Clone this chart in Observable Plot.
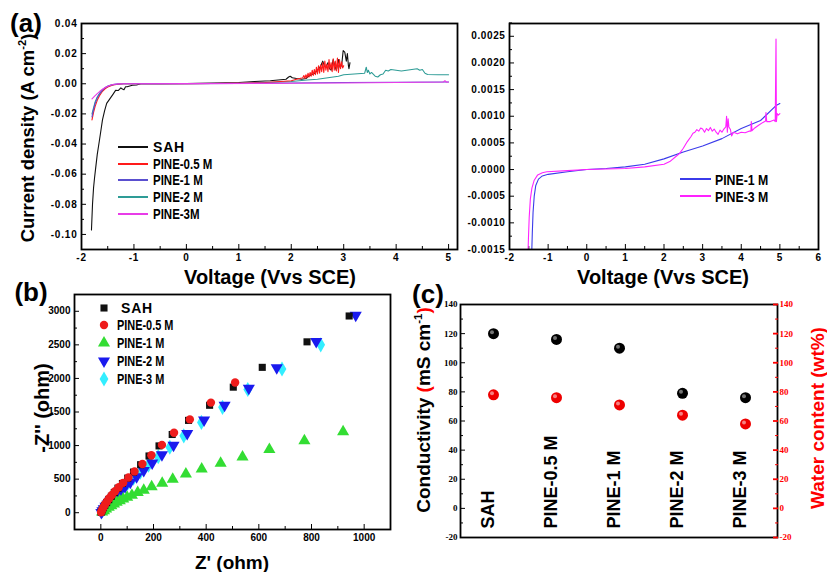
<!DOCTYPE html>
<html><head><meta charset="utf-8">
<script src="https://cdn.jsdelivr.net/npm/d3@7"></script>
<script src="https://cdn.jsdelivr.net/npm/@observablehq/plot@0.6"></script>
<style>
body{margin:0;background:#fff;}
#fig{position:relative;width:827px;height:572px;overflow:hidden;font-family:"Liberation Sans",Arial,sans-serif;background:#fff;}
.t{position:absolute;white-space:nowrap;font-weight:bold;line-height:1;}
sup{font-size:0.6em;vertical-align:0.7em;}
</style></head><body><div id="fig"></div>
<script>
// ---------- (a) left: LSV curves ----------
const aSeries = ["SAH","PINE-0.5 M","PINE-1 M","PINE-2 M","PINE-3M"];
const aColors = ["#111111","#ff1a1a","#5a4fcf","#2e9c96","#e83ce8"];
const sahV = [-1.81,-1.79,-1.77,-1.75,-1.73,-1.70,-1.66,-1.63,-1.60,-1.56,-1.52,-1.48,-1.44,-1.40,-1.35,-1.30,-1.25,-1.22,-1.19,-1.16,-1.13,-1.08,-1.03,-0.95,-0.87,-0.5,0,0.5,1.0,1.3,1.6,1.9,1.95,1.98,2.02,2.1,2.2,2.28,2.33,2.38,2.45,2.5,2.55,2.6,2.63,2.66,2.7,2.73,2.76,2.8,2.83,2.86,2.9,2.93,2.96,2.99,3.02,3.05,3.07,3.09,3.1,3.12];
const sahJ = [-0.097,-0.080,-0.069,-0.062,-0.056,-0.047,-0.038,-0.031,-0.024,-0.018,-0.013,-0.011,-0.009,-0.007,-0.0044,-0.0045,-0.0027,-0.0035,-0.004,-0.002,-0.002,-0.0015,-0.001,-0.0008,0,0,0.0002,0.0004,0.0008,0.0015,0.002,0.003,0.0045,0.005,0.004,0.0035,0.003,0.0035,0.005,0.006,0.007,0.009,0.011,0.015,0.012,0.011,0.014,0.010,0.009,0.016,0.012,0.009,0.016,0.011,0.012,0.022,0.021,0.015,0.020,0.012,0.010,0.014];
const p05V = [-1.80,-1.77,-1.74,-1.70,-1.65,-1.60,-1.55,-1.50,-1.45,-1.40,-1.30,-1.20,0,1.0,1.5,1.8,2.0,2.1,2.2,2.22,2.24,2.26,2.28,2.30,2.32,2.34,2.36,2.38,2.40,2.42,2.44,2.46,2.48,2.50,2.52,2.54,2.56,2.58,2.60,2.62,2.64,2.66,2.68,2.70,2.72,2.74,2.76,2.78,2.80,2.82,2.84,2.86,2.88,2.90,2.92,2.94,2.96,2.98,3.00];
const p05J = [-0.024,-0.019,-0.015,-0.011,-0.0075,-0.005,-0.0033,-0.0022,-0.0014,-0.0008,-0.0003,0,0,0.0003,0.0008,0.0015,0.002,0.003,0.0038,0.004,0.0055,0.0035,0.006,0.004,0.007,0.0045,0.0075,0.005,0.009,0.0055,0.0095,0.006,0.011,0.0065,0.012,0.007,0.0125,0.008,0.014,0.0075,0.015,0.009,0.013,0.008,0.016,0.0095,0.014,0.008,0.0165,0.009,0.015,0.0085,0.017,0.0075,0.016,0.01,0.0145,0.0105,0.012];
const p1V = [-1.80,-1.77,-1.74,-1.70,-1.65,-1.60,-1.55,-1.50,-1.45,-1.40,-1.30,-1.20,0,1,2,3,4,5];
const p1J = [-0.022,-0.017,-0.013,-0.0095,-0.0065,-0.0042,-0.0027,-0.0017,-0.001,-0.0006,-0.0002,0,0.0001,0.0002,0.0005,0.0008,0.001,0.0012];
const p2V = [-1.80,-1.77,-1.74,-1.70,-1.65,-1.60,-1.55,-1.50,-1.45,-1.40,-1.30,-1.20,0,1.0,1.5,2.0,2.3,2.5,2.7,2.9,3.0,3.2,3.4,3.43,3.45,3.47,3.5,3.53,3.6,3.65,3.7,3.75,3.8,3.85,3.9,4.0,4.1,4.2,4.3,4.4,4.45,4.5,4.55,4.6,4.8,5.0];
const p2J = [-0.020,-0.016,-0.012,-0.0088,-0.006,-0.004,-0.0026,-0.0016,-0.001,-0.0006,-0.0002,0,0.0001,0.0003,0.0008,0.0015,0.0025,0.003,0.004,0.005,0.006,0.0065,0.007,0.011,0.0075,0.009,0.0065,0.0075,0.005,0.0045,0.006,0.0065,0.009,0.0085,0.0095,0.009,0.0085,0.009,0.0095,0.010,0.009,0.0095,0.007,0.0062,0.006,0.006];
const p3V = [-1.80,-1.75,-1.70,-1.65,-1.60,-1.55,-1.50,-1.45,-1.40,-1.30,-1.20,0,2,3,4,4.9,4.93,4.96,5.0];
const p3J = [-0.010,-0.0082,-0.0065,-0.005,-0.0036,-0.0025,-0.0016,-0.001,-0.0005,-0.0001,0,0.0001,0.0003,0.0005,0.0008,0.0012,0.002,0.001,0.0012];
const a1TicksX = [-2,-1,0,1,2,3,4,5];
const a1TicksY = [-0.10,-0.08,-0.06,-0.04,-0.02,0,0.02,0.04];

// ---------- (a) right: zoomed LSV ----------
const rSeries = ["PINE-1 M","PINE-3 M"];
const rColors = ["#3b3bea","#ff22ff"];
const r1V = [-1.43,-1.41,-1.39,-1.36,-1.32,-1.25,-1.15,-1.0,-0.5,0,0.5,1,1.5,2,2.5,3,3.5,4,4.5,4.9,5.0];
const r1J = [-0.0017,-0.0012,-0.0008,-0.0005,-0.0003,-0.00018,-0.00012,-0.00009,-0.00004,0,0.00002,0.00005,0.0001,0.0002,0.00033,0.00044,0.00058,0.00077,0.00092,0.0012,0.00124];
const r3V = [-1.53,-1.51,-1.49,-1.46,-1.42,-1.36,-1.27,-1.15,-1.03,-0.5,0,1,1.5,2,2.15,2.3,2.4,2.5,2.6,2.7,2.75,2.8,2.85,2.9,2.95,3.0,3.05,3.1,3.15,3.2,3.25,3.3,3.35,3.4,3.45,3.5,3.55,3.6,3.62,3.64,3.66,3.68,3.72,3.75,3.8,3.9,4.0,4.1,4.2,4.25,4.26,4.28,4.35,4.45,4.55,4.63,4.64,4.66,4.75,4.85,4.88,4.9,4.91,4.93,4.96,5.0];
const r3J = [-0.0018,-0.0013,-0.0009,-0.00055,-0.00035,-0.0002,-0.0001,-0.00006,-0.00004,-0.00002,0,0.00002,0.00005,0.0001,0.00015,0.00024,0.0003,0.0004,0.00052,0.00062,0.00068,0.0007,0.00075,0.00072,0.00078,0.00076,0.0007,0.00077,0.00073,0.00079,0.00072,0.00076,0.0007,0.00066,0.00074,0.0007,0.00076,0.0008,0.001,0.0007,0.00095,0.0008,0.00075,0.00063,0.0007,0.00067,0.0007,0.00069,0.00072,0.00072,0.0009,0.00073,0.00078,0.00083,0.00088,0.00091,0.00107,0.0009,0.0009,0.00093,0.0009,0.00245,0.0009,0.00105,0.00102,0.00105];
const a2TicksX = [-2,-1,0,1,2,3,4,5,6];
const a2TicksY = [-0.0015,-0.001,-0.0005,0,0.0005,0.001,0.0015,0.002,0.0025];

// ---------- (b) Nyquist ----------
const bSeries = ["SAH","PINE-0.5 M","PINE-1 M","PINE-2 M","PINE-3 M"];
const bColors = ["#111111","#ee1c1c","#33dd33","#1a1aee","#33eeff"];
const sahZr = [1,3,6,10,15,22,30,40,51,65,82,102,124,151,183,221,271,333,413,503,613,783,943];
const sahZi = [5,20,45,75,110,150,195,245,300,365,435,515,605,715,845,995,1165,1375,1600,1870,2165,2545,2930];
const p05Zr = [1,3,7,11,17,24,32,42,54,68,85,105,128,158,192,232,278,338,418,510];
const p05Zi = [5,25,55,90,130,170,215,265,320,380,445,525,615,725,855,1010,1190,1390,1640,1940];
const p1Zr = [5,12,20,30,40,50,60,72,85,100,118,140,163,193,233,273,323,383,455,538,640,773,920];
const p1Zi = [10,30,55,80,105,130,155,180,205,230,260,300,335,385,440,500,575,650,735,830,940,1070,1205];
const p2Zr = [2,6,11,18,26,35,46,59,74,92,112,136,163,195,232,276,328,392,470,562,668,818,968];
const p2Zi = [5,30,60,95,130,170,215,265,320,385,455,535,630,740,865,1005,1180,1380,1600,1855,2160,2550,2940];
const p3Zr = [5,10,16,23,31,41,53,67,83,102,124,150,181,218,262,315,382,462,558,688,835];
const p3Zi = [25,55,90,125,165,210,260,315,375,440,515,605,710,835,975,1145,1345,1570,1835,2140,2500];
const bTicksX = [0,200,400,600,800,1000];
const bTicksY = [0,500,1000,1500,2000,2500,3000];

// ---------- (c) conductivity / water content ----------
const cCats = ["SAH","PINE-0.5 M","PINE-1 M","PINE-2 M","PINE-3 M"];
const conductivity = [120,116,110,79,76];
const waterContent = [78,76,71,64,58];
const cTicksY = [-20,0,20,40,60,80,100,120,140];

// ---------- helpers ----------
const fig = document.getElementById("fig");
function place(svg, left, top) {
  svg.style.position = "absolute"; svg.style.left = left + "px"; svg.style.top = top + "px";
  fig.appendChild(svg);
}
function txt(html, x, y, o = {}) {
  const d = document.createElement("div");
  d.className = "t"; d.innerHTML = html;
  d.style.left = x + "px"; d.style.top = y + "px";
  d.style.fontSize = (o.size || 19) + "px";
  if (o.color) d.style.color = o.color;
  if (o.family) d.style.fontFamily = o.family;
  if (o.ls) d.style.letterSpacing = o.ls;
  d.style.transformOrigin = o.start ? "0 50%" : "50% 50%";
  d.style.transform = (o.start ? "translate(0,-50%)" : "translate(-50%,-50%)") + (o.rot ? " rotate(-90deg)" : "") + (o.sx ? ` scaleX(${o.sx})` : "");
  fig.appendChild(d);
  return d;
}
const half = (a, b, s) => d3.range(a, b + s / 2, s);
function frameAxes(tx, mx, ty, my, fx, fy) {
  return [
    Plot.axisX(tx, {tickSize: -5, tickPadding: 9, tickFormat: fx, label: null}),
    Plot.axisX(mx, {tickSize: -3, tickFormat: () => "", label: null}),
    Plot.axisY(ty, {tickSize: -5, tickPadding: 9, tickFormat: fy, label: null}),
    Plot.axisY(my, {tickSize: -3, tickFormat: () => "", label: null})
  ];
}
const baseStyle = {fontFamily: '"Liberation Sans", Arial, sans-serif', fontSize: "10px", fontWeight: "bold", background: "transparent", overflow: "visible", color: "#000"};

// ---------- panel (a) left ----------
const aV = [sahV, p05V, p1V, p2V, p3V], aJ = [sahJ, p05J, p1J, p2J, p3J];
const drawOrder = [0, 3, 1, 2, 4];
const A1 = Plot.plot({
  width: 465, height: 290, marginLeft: 81, marginRight: 8, marginTop: 23, marginBottom: 41,
  style: {...baseStyle, letterSpacing: "0.8px"},
  x: {domain: [-2, 5.17], label: null},
  y: {domain: [-0.11, 0.04], label: null},
  marks: [
    ...frameAxes(a1TicksX, half(-1.5, 4.5, 1), a1TicksY, half(-0.11, 0.03, 0.02), d => String(d), d => d.toFixed(2)),
    ...drawOrder.map(i => Plot.line(aV[i], {x: aV[i], y: aJ[i], stroke: aColors[i], strokeWidth: 1.1, clip: true})),
    Plot.frame({stroke: "#000", strokeWidth: 1.8})
  ]
});
place(A1, 0, 0);

// ---------- panel (a) right ----------
const A2 = Plot.plot({
  width: 362, height: 290, marginLeft: 44, marginRight: 9, marginTop: 23, marginBottom: 41,
  style: {...baseStyle, letterSpacing: "0.6px"},
  x: {domain: [-2, 6], label: null},
  y: {domain: [-0.0015, 0.00274], label: null},
  marks: [
    ...frameAxes(a2TicksX, half(-1.5, 5.5, 1), a2TicksY, half(-0.00125, 0.00275, 0.0005), d => String(d), d => d.toFixed(4)),
    Plot.line(r1V, {x: r1V, y: r1J, stroke: rColors[0], strokeWidth: 1.1, clip: true}),
    Plot.line(r3V, {x: r3V, y: r3J, stroke: rColors[1], strokeWidth: 1.1, clip: true}),
    Plot.frame({stroke: "#000", strokeWidth: 1.8})
  ]
});
place(A2, 465, 0);

// ---------- panel (b) ----------
const bX = [sahZr, p05Zr, p1Zr, p2Zr, p3Zr], bY = [sahZi, p05Zi, p1Zi, p2Zi, p3Zi];
const bSym = ["square", "circle", "triangle", "triangle", "diamond"];
const bR = [4, 4.2, 4.5, 4.5, 4.6];
const bRot = [0, 0, 0, 180, 0];
const B = Plot.plot({
  width: 405, height: 287, marginLeft: 74, marginRight: 15, marginTop: 9, marginBottom: 43,
  style: baseStyle,
  x: {domain: [-100, 1100], label: null},
  y: {domain: [-250, 3250], label: null},
  marks: [
    ...frameAxes(bTicksX, half(100, 900, 200), bTicksY, half(250, 2750, 500), d => String(d), d => String(d)),
    ...[4, 3, 2, 0, 1].map(i => Plot.dot(bX[i], {x: bX[i], y: bY[i], symbol: bSym[i], r: bR[i], rotate: bRot[i], fill: bColors[i], stroke: "none"})),
    Plot.frame({stroke: "#000", strokeWidth: 1.8})
  ]
});
place(B, 0, 285);

// ---------- panel (c) ----------
const C = Plot.plot({
  width: 422, height: 287, marginLeft: 55, marginRight: 50, marginTop: 19, marginBottom: 35,
  style: {...baseStyle, fontFamily: '"Liberation Serif", "Times New Roman", serif', fontSize: "9px"},
  x: {type: "point", domain: cCats, padding: 0.5, label: null},
  y: {domain: [-20, 140], label: null},
  marks: [
    Plot.axisX({tickSize: 0, tickFormat: () => "", label: null}),
    Plot.axisY(cTicksY, {tickSize: -5, tickPadding: 8, tickFormat: d => String(d), label: null}),
    Plot.axisY(half(-10, 130, 20), {tickSize: -3, tickFormat: () => "", label: null}),
    Plot.frame({stroke: "#000", strokeWidth: 1.8}),
    Plot.axisY(cTicksY, {anchor: "right", tickSize: -5, tickPadding: 7, tickFormat: d => String(d), label: null, color: "#ff0000", line: true, strokeWidth: 1.8}),
    Plot.axisY(half(-10, 130, 20), {anchor: "right", tickSize: -3, tickFormat: () => "", label: null, color: "#ff0000"}),
    Plot.text(cCats, {x: d => d, frameAnchor: "bottom", dy: -9, rotate: -90, textAnchor: "start", text: d => d,
      fontSize: 18, fontWeight: "bold", fontFamily: '"Liberation Sans", Arial, sans-serif', fill: "#000"}),
    Plot.dot(cCats, {x: cCats, y: conductivity, r: 5.5, fill: "#000"}),
    Plot.dot(cCats, {x: cCats, y: conductivity, r: 2, fill: "#fff", fillOpacity: 0.45, dx: -1.5, dy: -1.5}),
    Plot.dot(cCats, {x: cCats, y: waterContent, r: 5.5, fill: "#ee0000"}),
    Plot.dot(cCats, {x: cCats, y: waterContent, r: 2, fill: "#fff", fillOpacity: 0.5, dx: -1.5, dy: -1.5})
  ]
});
place(C, 405, 285);

// ---------- titles & labels ----------
txt("(a)", 26, 23, {size: 26});
txt("(b)", 31, 292, {size: 26});
txt("(c)", 428, 294, {size: 26});
txt("Voltage (Vvs SCE)", 270, 277, {size: 20});
txt("Voltage (Vvs SCE)", 663, 277, {size: 20});
txt("Current density (A cm<sup>-2</sup>)", 27, 138, {size: 18.5, rot: true});
txt("-Z'' (ohm)", 42, 408, {size: 20, rot: true});
txt("Z' (ohm)", 232, 562, {size: 19});
txt('Conductivity <span style="color:#ff0000">(</span>mS cm<sup>-1</sup><span style="color:#ff0000">)</span>', 423, 410, {size: 19, rot: true});
txt("Water content (wt%)", 817, 418, {size: 19, rot: true, color: "#ff0000"});

// ---------- legends ----------
function lineSwatch(x, y, w, color) {
  const d = document.createElement("div");
  d.style.cssText = `position:absolute;left:${x}px;top:${y - 1}px;width:${w}px;height:2px;background:${color};`;
  fig.appendChild(d);
}
const aRows = [147, 164, 180, 197, 214];
aSeries.forEach((s, i) => {
  lineSwatch(118, aRows[i], 30, aColors[i]);
  txt(s, 153, aRows[i], {size: 14, start: true, ls: i === 0 ? "0.8px" : "0", sx: i === 0 ? null : 0.82});
});
const rRows = [179, 196];
rSeries.forEach((s, i) => {
  lineSwatch(680, rRows[i], 31, rColors[i]);
  txt(s, 715, rRows[i], {size: 15, start: true, sx: 0.82});
});
const bRows = [308, 325, 343, 361, 379];
const symGen = [d3.symbolSquare, d3.symbolCircle, d3.symbolTriangle, d3.symbolTriangle, d3.symbolDiamond];
bSeries.forEach((s, i) => {
  const ns = "http://www.w3.org/2000/svg";
  const sv = document.createElementNS(ns, "svg");
  sv.setAttribute("width", 14); sv.setAttribute("height", 14);
  sv.style.cssText = `position:absolute;left:${97}px;top:${bRows[i] - 7}px;overflow:visible;`;
  const p = document.createElementNS(ns, "path");
  p.setAttribute("d", d3.symbol(symGen[i], Math.PI * bR[i] * bR[i])());
  p.setAttribute("transform", `translate(7,7) rotate(${bRot[i]})`);
  p.setAttribute("fill", bColors[i]);
  sv.appendChild(p); fig.appendChild(sv);
  txt(s, i === 0 ? 121 : 117, bRows[i], {size: 14, start: true, ls: i === 0 ? "0.8px" : "0", sx: i === 0 ? null : 0.78});
});
</script></body></html>
